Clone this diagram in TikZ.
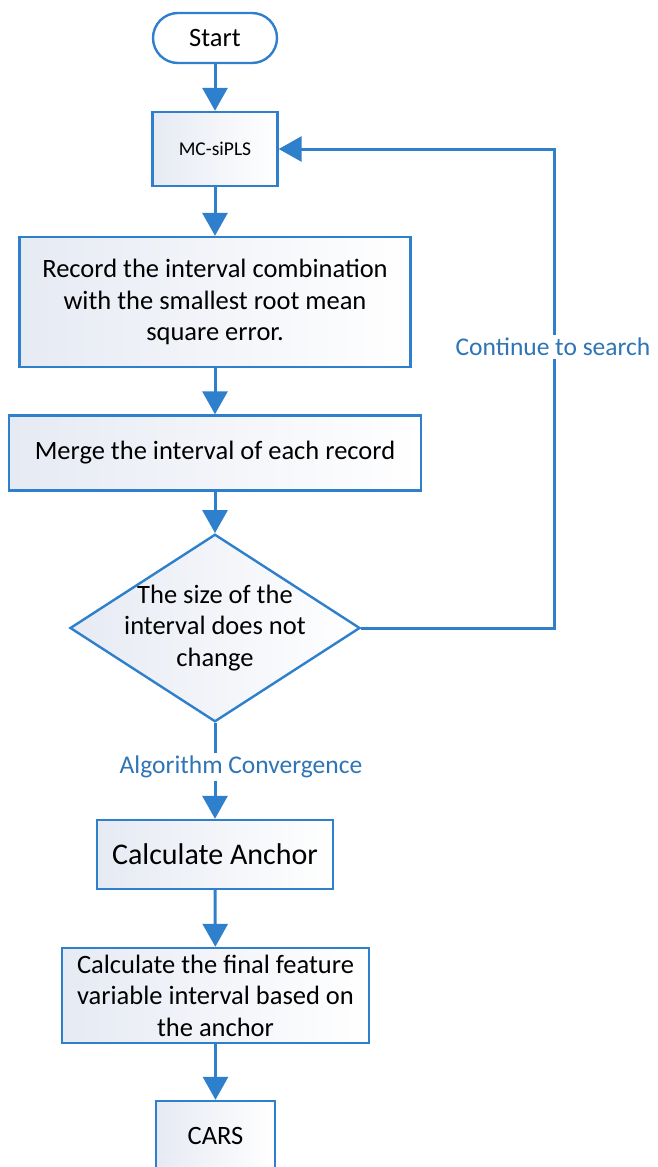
\documentclass[tikz,border=0pt]{standalone}
\usepackage{fontspec}
\setmainfont{Carlito}
\usepackage{tikz}
\usetikzlibrary{arrows.meta,shapes.geometric}
\definecolor{flowblue}{HTML}{2F80CC}
\definecolor{lblblue}{HTML}{2F75B5}
\definecolor{boxtint}{HTML}{E6EAF3}

\begin{document}
\begin{tikzpicture}[x=1pt,y=-1pt,
  box/.style = {draw=flowblue, line width=2.4pt, left color=boxtint, right color=white,
    align=center, inner sep=0pt, font=\fontsize{26.5}{31.5}\selectfont},
  term/.style = {draw=flowblue, line width=2.4pt, fill=white, rounded corners=25pt,
    minimum width=124pt, minimum height=50pt, font=\fontsize{26.5}{31.5}\selectfont},
  dec/.style = {diamond, draw=flowblue, line width=2.4pt, left color=boxtint, right color=white,
    align=center, inner sep=-20pt, minimum width=290pt, minimum height=172pt,
    font=\fontsize{26.5}{31.5}\selectfont},
  arr/.style = {draw=flowblue, line width=3pt, -{Triangle[length=23pt,width=25pt]}},
  lbl/.style = {text=lblblue, fill=white, inner xsep=2pt, inner ysep=3pt,
    font=\fontsize{25.5}{30}\selectfont}]
\clip (0,0) rectangle (657,1167);
\fill[white] (0,0) rectangle (657,1167);

\node[term] (1) at (215,38) {Start};
\node[box, minimum width=125pt, minimum height=74pt, font=\fontsize{19.5}{24}\selectfont] (2) at (215,149) {MC-siPLS};
\node[box, minimum width=391pt, minimum height=130pt] (3) at (215,302) {Record the interval combination\\with the smallest root mean\\square error.};
\node[box, minimum width=412pt, minimum height=75pt] (4) at (215,453) {Merge the interval of each record};
\node[dec] (5) at (215,628) {The size of the\\interval does not\\change};
\node[box, minimum width=236pt, minimum height=69pt, font=\fontsize{30}{36}\selectfont] (6) at (215,854.5) {Calculate Anchor};
\node[box, minimum width=307pt, minimum height=95pt] (7) at (215.5,995.5) {Calculate the final feature\\variable interval based on\\the anchor};
\node[box, minimum width=119pt, minimum height=69pt] (8) at (215.5,1135.5) {CARS};
\coordinate (c) at (554,628);

\draw[arr] (1) -- (2);
\draw[arr] (2) -- (3);
\draw[arr] (3) -- (4);
\draw[arr] (4) -- (5);
\draw[arr] (5) -- (c) |- (2);
\draw[arr] (5) -- (6);
\draw[arr] (6) -- (7);
\draw[arr] (7) -- (8);

\node[lbl] (l1) at (553,347) {Continue to search};
\node[lbl] (l2) at (241,767) {Algorithm Convergence};
\end{tikzpicture}
\end{document}
